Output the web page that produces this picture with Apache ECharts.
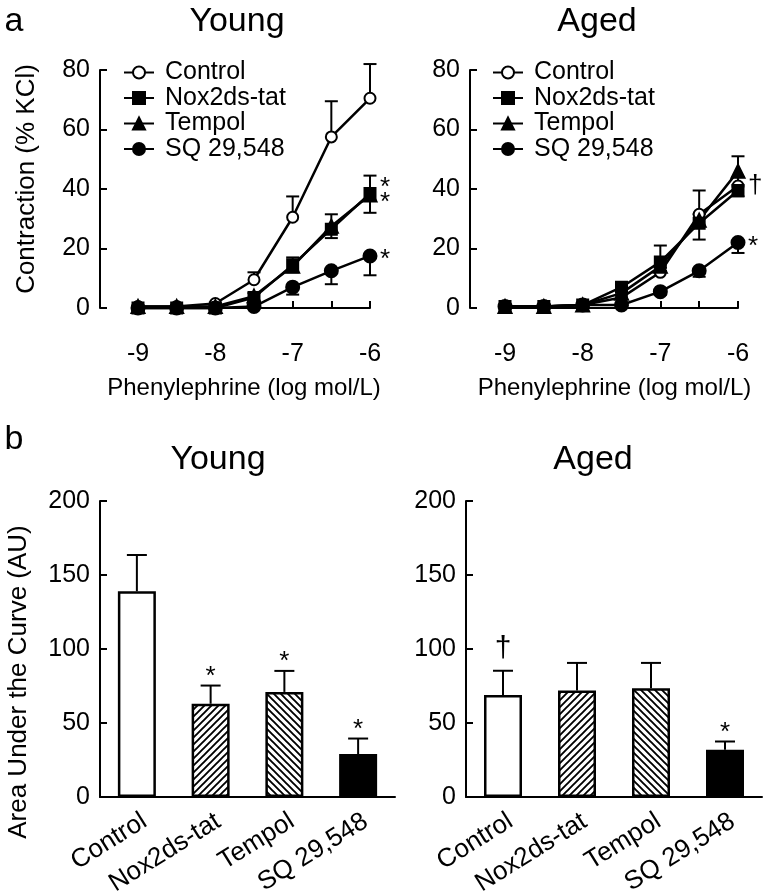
<!DOCTYPE html>
<html>
<head>
<meta charset="utf-8">
<script src="https://cdn.jsdelivr.net/npm/echarts@6/dist/echarts.min.js"></script>
<style>
html, body { margin: 0; padding: 0; background: #fff; }
#main { width: 772px; height: 893px; }
</style>
</head>
<body>
<div id="main"></div>
<script>
// doses (log mol/L) and groups
var doses = [-9, -8.5, -8, -7.5, -7, -6.5, -6];
var groups = ['Control', 'Nox2ds-tat', 'Tempol', 'SQ 29,548'];

// a: young contraction (% KCl)
var youngControl = [0.5, 0.5, 1.5, 9.5, 30.5, 57.5, 70.5];
var youngNox = [0, 0, 0, 3.5, 14.5, 26.5, 38.5];
var youngTempol = [0.5, 0.5, 0.5, 4, 14, 27.5, 38];
var youngSq = [0, 0, 0, 0.5, 7, 12.5, 17.5];
var youngControlErr = [0, 0, 0, 2.5, 7, 12, 11.5];
var youngNoxErr = [0, 0, 0, 1, 2.5, 3, 6.5];
var youngTempolErr = [0, 0, 0, 1, 3, 4, 6.5];
var youngSqErr = [0, 0, 0, 0.5, 2.5, 4.5, 6.5];
var youngLineSig = ['', '*', '*', '*'];

// a: aged contraction (% KCl)
var agedControl = [0.5, 0.5, 1, 3.5, 12, 31.5, 41];
var agedNox = [0.5, 0.5, 1, 7, 15.5, 28.5, 39.5];
var agedTempol = [0.5, 0.5, 1, 5, 14, 29.5, 46];
var agedSq = [0.5, 0.5, 1, 1, 5.5, 12.5, 22];
var agedControlErr = [0, 0, 0, 1, 1.5, 8, 3];
var agedNoxErr = [0, 0, 0, 1.5, 3, 5.5, 2];
var agedTempolErr = [0, 0, 0, 1, 7, 2, 5];
var agedSqErr = [0, 0, 0, 0.5, 1, 2, 3.5];
var agedLineSig = ['\u2020', '', '', '*'];

// b: area under the curve (AU)
var youngAuc = [139, 63, 71, 29];
var youngAucErr = [24.5, 12.3, 14.2, 10.5];
var youngAucSig = ['', '*', '*', '*'];
var agedAuc = [69, 72, 73.5, 32];
var agedAucErr = [16.3, 18.6, 17.1, 5.5];
var agedAucSig = ['\u2020', '', '', '*'];

var FONT = '"Liberation Sans", Arial, Helvetica, sans-serif';
var symbols = ['emptyCircle', 'rect', 'triangle', 'circle'];
var symbolSizes = [11, 11, 13, 13];
var errDir = [1, -1, 1, -1];
var sigDy = [0, -6, 8, 4];

function hatch(dir) {
    var s = 7;
    var c = document.createElement('canvas');
    c.width = s; c.height = s;
    var g = c.getContext('2d');
    g.fillStyle = '#fff';
    g.fillRect(0, 0, s, s);
    g.strokeStyle = '#000';
    g.lineWidth = 1.9;
    g.beginPath();
    if (dir > 0) {
        g.moveTo(-1, s + 1); g.lineTo(s + 1, -1);
        g.moveTo(-1, 1); g.lineTo(1, -1);
        g.moveTo(s - 1, s + 1); g.lineTo(s + 1, s - 1);
    } else {
        g.moveTo(-1, -1); g.lineTo(s + 1, s + 1);
        g.moveTo(s - 1, -1); g.lineTo(s + 1, 1);
        g.moveTo(-1, s - 1); g.lineTo(1, s + 1);
    }
    g.stroke();
    return c;
}
var barFills = ['#fff', { image: hatch(1), repeat: 'repeat' }, { image: hatch(-1), repeat: 'repeat' }, '#000'];

function errLine(p0, p1, cap) {
    var st = { stroke: '#000', lineWidth: 2 };
    return [
        { type: 'line', shape: { x1: p0[0], y1: p0[1], x2: p1[0], y2: p1[1] }, style: st },
        { type: 'line', shape: { x1: p1[0] - cap, y1: p1[1], x2: p1[0] + cap, y2: p1[1] }, style: st }
    ];
}

// line panels
function lineSeries(gi, vals, errs, sigs) {
    var out = [];
    vals.forEach(function (v, k) {
        out.push({
            type: 'line', name: groups[k], xAxisIndex: gi, yAxisIndex: gi,
            data: doses.map(function (d, i) { return [d, v[i]]; }),
            symbol: symbols[k], symbolSize: symbolSizes[k], z: 3, clip: false,
            lineStyle: { color: '#000', width: 2.5 },
            itemStyle: { color: '#000', borderColor: '#000', borderWidth: 2 },
            emphasis: { disabled: true }
        });
        out.push({
            type: 'custom', xAxisIndex: gi, yAxisIndex: gi, z: 2, clip: false,
            data: doses.map(function (d, i) { return [d, v[i], errs[k][i]]; }),
            renderItem: function (params, api) {
                var x = api.value(0), y = api.value(1), e = api.value(2);
                var ch = [];
                var p0 = api.coord([x, y]);
                if (e > 0) {
                    ch = ch.concat(errLine(p0, api.coord([x, y + errDir[k] * e]), 6.5));
                }
                if (params.dataIndex === doses.length - 1 && sigs[k]) {
                    ch.push({
                        type: 'text',
                        style: { text: sigs[k], x: p0[0] + 10, y: p0[1] + sigDy[k], align: 'left', verticalAlign: 'middle', fontSize: 26, fontFamily: FONT, fill: '#000' }
                    });
                }
                return { type: 'group', children: ch };
            }
        });
    });
    return out;
}

// bar panels
function barSeries(gi, vals, errs, sigs) {
    return [{
        type: 'bar', xAxisIndex: gi, yAxisIndex: gi, barWidth: 38, z: 2,
        data: vals.map(function (v, i) {
            return { value: v, itemStyle: { color: barFills[i], borderColor: '#000', borderWidth: 2.5 } };
        }),
        emphasis: { disabled: true }
    }, {
        type: 'custom', xAxisIndex: gi, yAxisIndex: gi, z: 3, clip: false,
        data: vals.map(function (v, i) { return [i, v, errs[i]]; }),
        renderItem: function (params, api) {
            var i = api.value(0), v = api.value(1), e = api.value(2);
            var p0 = api.coord([i, v]);
            var p1 = api.coord([i, v + e]);
            var ch = errLine(p0, p1, 10);
            var s = sigs[params.dataIndex];
            if (s) {
                var dagger = s !== '*';
                ch.push({
                    type: 'text',
                    style: { text: s, x: p1[0], y: p1[1] + (dagger ? -7 : 4), align: 'center', verticalAlign: 'bottom', fontSize: dagger ? 30 : 26, fontFamily: FONT, fill: '#000' }
                });
            }
            return { type: 'group', children: ch };
        }
    }];
}

var axisLine = { lineStyle: { color: '#000', width: 2 } };
var tick = { show: true, inside: true, length: 7, lineStyle: { color: '#000', width: 2 } };
var lbl = { color: '#000', fontSize: 25, fontFamily: FONT };

function doseAxis(gi, shift) {
    return {
        type: 'value', gridIndex: gi, min: -9, max: -6, interval: 0.5, offset: 22,
        axisLine: axisLine, axisTick: tick, splitLine: { show: false },
        axisLabel: Object.assign({ margin: 12, formatter: function (v) { return v % 1 === 0 ? String(v) : ''; } }, lbl),
        name: 'Phenylephrine (log mol/L)', nameLocation: 'middle', nameGap: 46,
        nameTextStyle: { color: '#000', fontSize: 24, fontFamily: FONT, padding: [0, shift, 0, 0] }
    };
}
function pctAxis(gi, off, name) {
    return {
        type: 'value', gridIndex: gi, min: 0, max: 80, interval: 20, offset: off,
        axisLine: { show: true, lineStyle: axisLine.lineStyle }, axisTick: tick, splitLine: { show: false },
        axisLabel: Object.assign({ margin: 10 }, lbl),
        name: name, nameLocation: 'middle', nameGap: 60,
        nameTextStyle: { color: '#000', fontSize: 26, fontFamily: FONT, padding: [0, 0, 0, 20] }
    };
}
function grpAxis(gi) {
    return {
        type: 'category', gridIndex: gi, data: groups,
        axisLine: axisLine, axisTick: { show: false },
        axisLabel: Object.assign({ rotate: 32, margin: 27, interval: 0, padding: [0, -9, 0, 0] }, lbl, { fontSize: 26 })
    };
}
function aucAxis(gi, name) {
    return {
        type: 'value', gridIndex: gi, min: 0, max: 200, interval: 50,
        axisLine: { show: true, lineStyle: axisLine.lineStyle }, axisTick: tick, splitLine: { show: false },
        axisLabel: Object.assign({ margin: 10 }, lbl),
        name: name, nameLocation: 'middle', nameGap: 68,
        nameTextStyle: { color: '#000', fontSize: 26, fontFamily: FONT, padding: [0, 66, 0, 0] }
    };
}

function legend(left) {
    return {
        data: groups, orient: 'vertical', left: left, top: 55, itemWidth: 30, itemHeight: 15, itemGap: 0.5,
        selectedMode: false,
        textStyle: { color: '#000', fontSize: 25, fontFamily: FONT, padding: [0, 0, 0, 6] }
    };
}

function label(text, x, y, size) {
    return { type: 'text', x: x, y: y, style: { text: text, align: 'center', verticalAlign: 'middle', fontSize: size, fontFamily: FONT, fill: '#000' } };
}

function grid(left, top, width, height) {
    return { left: left, top: top, width: width, height: height, containLabel: false, outerBoundsMode: 'none' };
}

var chart = echarts.init(document.getElementById('main'));
chart.setOption({
    animation: false,
    backgroundColor: '#fff',
    grid: [
        grid(138, 70, 232, 238),
        grid(505, 70, 233, 238),
        grid(100, 501, 295, 296),
        grid(466, 501, 296, 296)
    ],
    xAxis: [doseAxis(0, 20), doseAxis(1, 14), grpAxis(2), grpAxis(3)],
    yAxis: [pctAxis(0, 38, 'Contraction (% KCl)'), pctAxis(1, 35, ''), aucAxis(2, 'Area Under the Curve (AU)'), aucAxis(3, '')],
    legend: [legend(118), legend(487)],
    graphic: [
        label('a', 14, 22, 34),
        label('Young', 237, 22, 34),
        label('Aged', 597, 22, 34),
        label('b', 14, 440, 34),
        label('Young', 218, 460, 34),
        label('Aged', 593, 460, 34)
    ],
    series: [].concat(
        lineSeries(0, [youngControl, youngNox, youngTempol, youngSq], [youngControlErr, youngNoxErr, youngTempolErr, youngSqErr], youngLineSig),
        lineSeries(1, [agedControl, agedNox, agedTempol, agedSq], [agedControlErr, agedNoxErr, agedTempolErr, agedSqErr], agedLineSig),
        barSeries(2, youngAuc, youngAucErr, youngAucSig),
        barSeries(3, agedAuc, agedAucErr, agedAucSig)
    )
});
</script>
</body>
</html>
